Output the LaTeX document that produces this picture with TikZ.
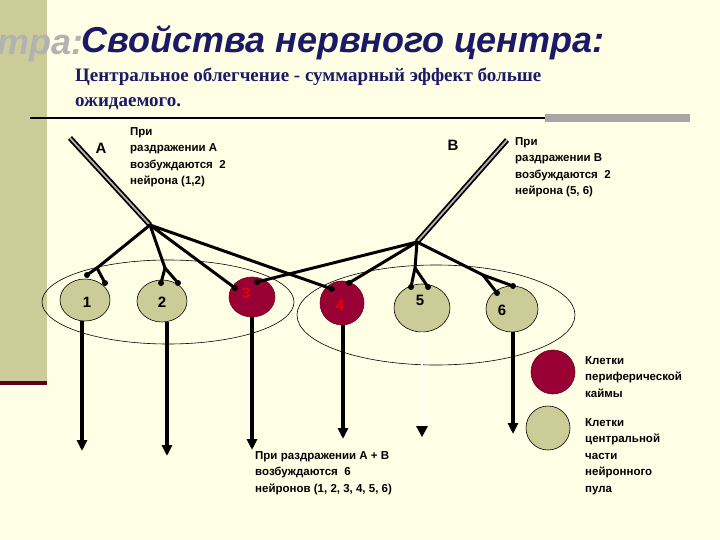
\documentclass[tikz,border=0pt]{standalone}
\usepackage{fontspec}
\setmainfont{Liberation Sans}
\newfontfamily\serifbold{Liberation Serif}
\usetikzlibrary{arrows.meta,shapes.geometric}
\definecolor{bg}{HTML}{FFFFE6}
\definecolor{strip}{HTML}{CCCC99}
\definecolor{olive}{HTML}{CCCC99}
\definecolor{crim}{HTML}{990033}
\definecolor{navy}{HTML}{1A1A66}
\begin{document}
\begin{tikzpicture}[x=1pt,y=-1pt,
  cell/.style={draw=black,line width=0.6pt,fill=olive},
  rcell/.style={draw=crim!70!black,line width=0.6pt,fill=crim},
  fib/.style={line width=3pt,line cap=round},
  axonA/.style={draw=black,line width=1.8pt,double=gray!60,double distance=1.8pt},
  dot/.style={circle,fill=black,inner sep=0pt,minimum size=6pt},
  down/.style={line width=3.4pt,-{Triangle[length=11pt,width=10pt]}},
  lbl/.style={font=\bfseries\fontsize{11.5}{16.5}\selectfont,align=left,anchor=north west,inner sep=0pt},
  num/.style={font=\bfseries\fontsize{15}{15}\selectfont}]
\useasboundingbox (0,0) rectangle (720,540);
\fill[bg] (0,0) rectangle (720,540);
\fill[strip] (0,0) rectangle (47,383);
\fill[crim!60!black] (0,381) rectangle (47,385);
\draw[line width=2pt] (30,118) -- (545,118);
\fill[gray!70] (545,114) rectangle (690,122);
% title
\node (title) [anchor=west,inner sep=0pt,text=navy,font=\bfseries\itshape\fontsize{36}{36}\selectfont] at (81,44) {\llap{\textcolor{gray!60}{\raisebox{-2pt}{\kern2pt Свойства нервного центра:}}\kern-2pt}\hskip-\wd0 Свойства нервного центра:};
\node (sub) [anchor=north west,inner sep=0pt,text=navy,align=left,font=\serifbold\bfseries\fontsize{19}{25}\selectfont] at (75,68) {Центральное облегчение - суммарный эффект больше\\ожидаемого.};
% pool ellipses
\draw[line width=0.6pt] (168,302) ellipse [x radius=126,y radius=42];
\draw[line width=0.6pt] (436,315) ellipse [x radius=139,y radius=50];
% cells
\node (c1) [cell,ellipse,minimum width=50pt,minimum height=42pt,inner sep=0pt] at (85,300) {};
\node (c2) [cell,ellipse,minimum width=50pt,minimum height=42pt,inner sep=0pt] at (162,301) {};
\node (c3) [rcell,ellipse,minimum width=46pt,minimum height=40pt,inner sep=0pt] at (252,297) {};
\node (c4) [rcell,circle,minimum size=44pt,inner sep=0pt] at (342,303) {};
\node (c5) [cell,ellipse,minimum width=56pt,minimum height=48pt,inner sep=0pt] at (422,308) {};
\node (c6) [cell,ellipse,minimum width=52pt,minimum height=46pt,inner sep=0pt] at (512,309) {};
\node[num] at (87,302) {1};
\node[num] at (162,302) {2};
\node[num,text=red!80!crim] at (246,293) {3};
\node[num,text=red!80!crim] at (340,305) {4};
\node[num] at (420,300) {5};
\node[num] at (502,310) {6};
% down axons
\draw[down] (82,321) -- (82,451);
\draw[down] (167,322) -- (167,456);
\draw[down] (252,317) -- (252,450);
\draw[down] (343,325) -- (343,439);
\draw[line width=0.6pt,double=white,double distance=1.4pt] (422,332) -- (422,428);
\fill (416,426) -- (428,426) -- (422,437) -- cycle;
\draw[down] (513,332) -- (513,434);
% input fibres
\coordinate (Atop) at (70,138);
\coordinate (Ab) at (150,225);
\coordinate (Btop) at (507,140);
\coordinate (Bb) at (417,242);
\draw[axonA] (Atop) -- (Ab);
\draw[axonA] (Btop) -- (Bb);
% A branches
\coordinate (f1) at (97,268); \coordinate (f2) at (165,268);
\draw[fib] (Ab) -- (f1) -- (87,275) node[dot]{};
\draw[fib] (f1) -- (105,283) node[dot]{};
\draw[fib] (Ab) -- (f2) -- (161,283) node[dot]{};
\draw[fib] (f2) -- (178,283) node[dot]{};
\draw[fib] (Ab) -- (235,288) node[dot]{};
\draw[fib] (Ab) -- (332,289) node[dot]{};
% B branches
\coordinate (f5) at (415,268); \coordinate (f6) at (483,275);
\draw[fib] (Bb) -- (257,282) node[dot]{};
\draw[fib] (Bb) -- (349,283) node[dot]{};
\draw[fib] (Bb) -- (f5) -- (411,287) node[dot]{};
\draw[fib] (f5) -- (428,287) node[dot]{};
\draw[fib] (Bb) -- (f6) -- (513,286) node[dot]{};
\draw[fib] (f6) -- (497,293) node[dot]{};
% labels
\node (la) [font=\bfseries\fontsize{15}{15}\selectfont] at (101,148) {A};
\node (lb) [font=\bfseries\fontsize{15}{15}\selectfont] at (453,145) {B};
\node (ta) [lbl] at (130,127) {При\\раздражении А\\возбуждаются\ \ 2\\нейрона (1,2)};
\node (tb) [lbl] at (515,137) {При\\раздражении В\\возбуждаются\ \ 2\\нейрона (5, 6)};
\node (tab) [lbl] at (255,451) {При раздражении А + В\\возбуждаются\ \ 6\\нейронов (1, 2, 3, 4, 5, 6)};
% legend
\node (lr) [rcell,circle,minimum size=44pt,inner sep=0pt] at (553,372) {};
\node (lg) [cell,circle,minimum size=44pt,inner sep=0pt] at (548,428) {};
\node (tr) [lbl] at (585,356) {Клетки\\периферической\\каймы};
\node (tg) [lbl] at (585,418) {Клетки\\центральной\\части\\нейронного\\пула};
\end{tikzpicture}
\end{document}
